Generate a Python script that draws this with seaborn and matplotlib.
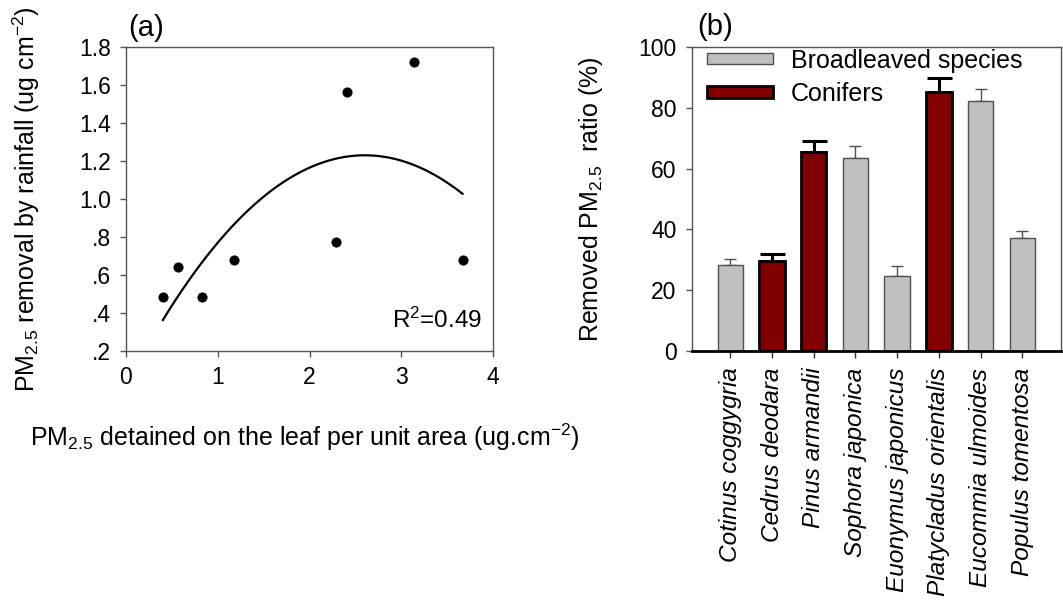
import numpy as np
import pandas as pd
import matplotlib
matplotlib.use("Agg")
import matplotlib.pyplot as plt
from matplotlib.patches import Patch
import seaborn as sns

# panel (a): PM2.5 on leaf vs removed by rainfall
pm_leaf = [0.40, 0.57, 0.83, 1.18, 2.29, 2.41, 3.14, 3.67]
pm_removed = [0.485, 0.643, 0.485, 0.678, 0.775, 1.565, 1.72, 0.677]
a_yticks = [0.2, 0.4, 0.6, 0.8, 1.0, 1.2, 1.4, 1.6, 1.8]
a_yticklabels = [".2", ".4", ".6", ".8", "1.0", "1.2", "1.4", "1.6", "1.8"]
a_xticks = [0, 1, 2, 3, 4]

# panel (b): removed ratio per species
species = ["Cotinus coggygria", "Cedrus deodara", "Pinus armandii", "Sophora japonica",
           "Euonymus japonicus", "Platycladus orientalis", "Eucommia ulmoides", "Populus tomentosa"]
groups = ["Broadleaved species", "Conifers", "Conifers", "Broadleaved species",
          "Broadleaved species", "Conifers", "Broadleaved species", "Broadleaved species"]
ratio = [28.4, 29.6, 65.4, 63.4, 24.6, 85.3, 82.2, 37.3]
ratio_err = [2.0, 2.4, 3.7, 4.1, 3.3, 4.6, 4.0, 2.2]
b_yticks = [0, 20, 40, 60, 80, 100]

sns.set_style("ticks")
plt.rcParams["font.family"] = ["Liberation Sans", "DejaVu Sans"]
plt.rcParams["mathtext.fontset"] = "custom"
plt.rcParams["mathtext.rm"] = "Liberation Sans"
plt.rcParams["mathtext.it"] = "Liberation Sans:italic"
plt.rcParams["mathtext.default"] = "regular"
plt.rcParams["text.color"] = "black"
plt.rcParams["axes.labelcolor"] = "black"
plt.rcParams["xtick.labelcolor"] = "black"
plt.rcParams["ytick.labelcolor"] = "black"

fig = plt.figure(figsize=(10.63, 6), dpi=100)
ax1 = fig.add_axes([126/1063, 1-351/600, 367/1063, 304/600])
ax2 = fig.add_axes([692/1063, 1-351/600, 369/1063, 304/600])

# ---- (a)
df_a = pd.DataFrame({"leaf": pm_leaf, "removed": pm_removed})
sns.regplot(data=df_a, x="leaf", y="removed", order=2, ci=None, scatter=False,
            truncate=True, line_kws={"color": "black", "lw": 1.6}, ax=ax1)
sns.scatterplot(data=df_a, x="leaf", y="removed", color="black", s=45,
                edgecolor="black", ax=ax1, zorder=3)
ax1.set_xlim(0, 4)
ax1.set_ylim(0.2, 1.8)
ax1.set_xticks(a_xticks)
ax1.set_yticks(a_yticks)
ax1.set_yticklabels(a_yticklabels)
ax1.tick_params(labelsize=16.5, length=4, width=1, pad=7, color="#555555", labelcolor="black")
for s in ax1.spines.values():
    s.set_color("#555555")
    s.set_linewidth(1)
ax1.set_xlabel("PM$_{2.5}$ detained on the leaf per unit area (ug.cm$^{-2}$)", fontsize=18)
ax1.set_ylabel("PM$_{2.5}$ removal by rainfall (ug cm$^{-2}$)", fontsize=18)
ax1.xaxis.set_label_coords(0.487, -0.232)
ax1.yaxis.set_label_coords(-0.229, 0.5)
ax1.text(0.97, 0.075, "R$^2$=0.49", transform=ax1.transAxes, ha="right", va="baseline", fontsize=17.5)

# ---- (b)
pal = {"Broadleaved species": "#C0C0C0", "Conifers": "#800000"}
df_b = pd.DataFrame({"species": species, "group": groups, "ratio": ratio, "err": ratio_err})
sns.barplot(data=df_b, x="species", y="ratio", hue="group", palette=pal, dodge=False,
            width=0.61, saturation=1, legend=False, ax=ax2, zorder=2)
# style bars by fill colour
for bar in ax2.patches:
    fc = bar.get_facecolor()
    if fc[0] > 0.6:
        bar.set_edgecolor("#505050")
        bar.set_linewidth(1)
    else:
        bar.set_edgecolor("black")
        bar.set_linewidth(2)

xpos = np.arange(len(species))
for lvl, lw, cap, col in [("Broadleaved species", 1.0, 4, "#505050"), ("Conifers", 2.2, 9, "black")]:
    m = df_b["group"] == lvl
    ax2.errorbar(xpos[m], df_b["ratio"][m], yerr=[np.zeros(m.sum()), df_b["err"][m]],
                 fmt="none", ecolor=col, elinewidth=lw, capsize=cap, capthick=lw, zorder=1)

ax2.set_xlim(-0.92, 7.93)
ax2.set_ylim(0, 100)
ax2.set_yticks(b_yticks)
ax2.tick_params(axis="y", labelsize=16.5, length=4, width=1, pad=7, color="#555555", labelcolor="black")
ax2.tick_params(axis="x", length=5, width=1, pad=7, color="#333333", labelcolor="black")
ax2.set_xticks(xpos)
ax2.set_xticklabels(species, rotation=90, fontsize=17.6, style="italic", ha="center", va="top")
for s in ax2.spines.values():
    s.set_color("#555555")
    s.set_linewidth(1)
ax2.spines["bottom"].set_color("black")
ax2.spines["bottom"].set_linewidth(2)
ax2.set_xlabel("")
ax2.set_ylabel("Removed PM$_{2.5}$  ratio (%)", fontsize=18)
ax2.yaxis.set_label_coords(-0.236, 0.5)

handles = [Patch(facecolor="#C0C0C0", edgecolor="#505050", linewidth=1),
           Patch(facecolor="#800000", edgecolor="black", linewidth=2)]
ax2.legend(handles, ["Broadleaved species", "Conifers"], loc="upper left",
           bbox_to_anchor=(0.04, 0.995), frameon=False, fontsize=18, handlelength=2.65,
           handleheight=0.33, handletextpad=0.7, labelspacing=0.38, borderaxespad=0, borderpad=0)

fig.text(128/1063, 1-36/600, "(a)", fontsize=21, va="baseline")
fig.text(697/1063, 1-35/600, "(b)", fontsize=21, va="baseline")

fig.savefig("out.png", dpi=100)
